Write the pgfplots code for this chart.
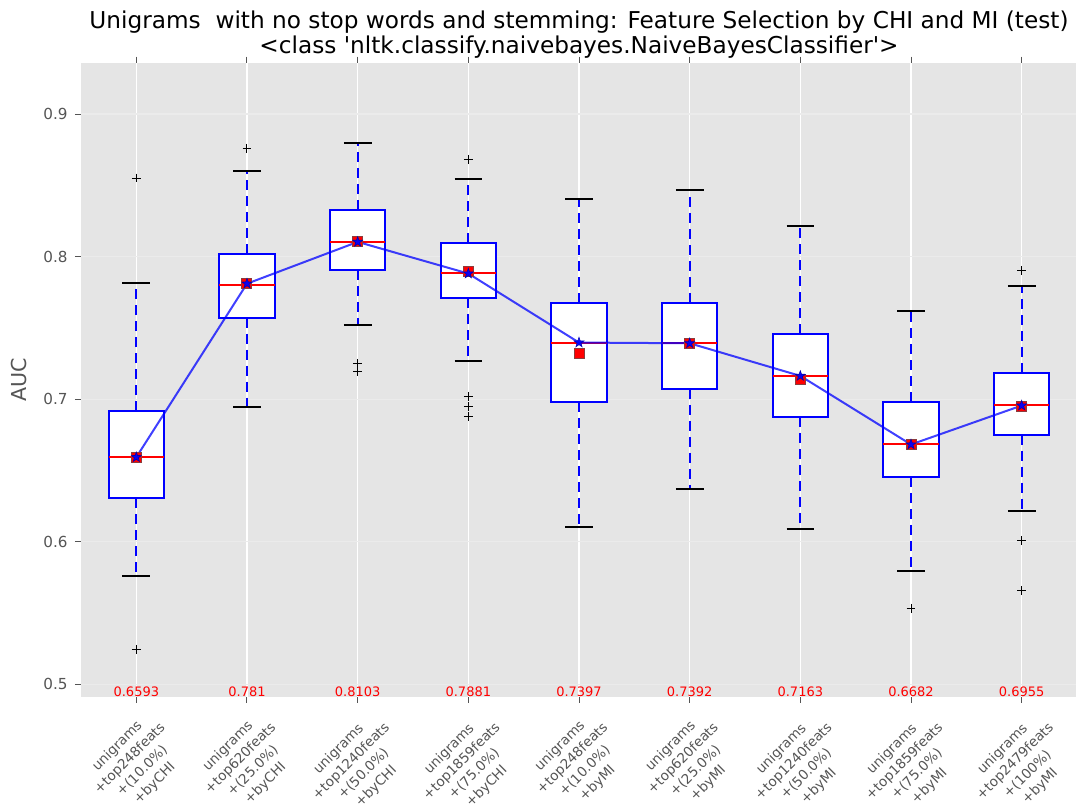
\documentclass[border=0pt]{standalone}
\usepackage{pgfplots}
\pgfplotsset{compat=1.18}
\usepgfplotslibrary{statistics}
\usepackage{fontspec}
\setmainfont{DejaVu Sans}
\definecolor{bgc}{HTML}{E5E5E5}
\definecolor{tickc}{HTML}{555555}
\definecolor{ygridc}{HTML}{EBEBEB}
\definecolor{sqedge}{HTML}{8C3C3C}

\pgfdeclareplotmark{fstar}{%
  \pgfpathmoveto{\pgfpointpolar{90}{\pgfplotmarksize}}%
  \pgfpathlineto{\pgfpointpolar{126}{0.4\pgfplotmarksize}}%
  \pgfpathlineto{\pgfpointpolar{162}{\pgfplotmarksize}}%
  \pgfpathlineto{\pgfpointpolar{198}{0.4\pgfplotmarksize}}%
  \pgfpathlineto{\pgfpointpolar{234}{\pgfplotmarksize}}%
  \pgfpathlineto{\pgfpointpolar{270}{0.4\pgfplotmarksize}}%
  \pgfpathlineto{\pgfpointpolar{306}{\pgfplotmarksize}}%
  \pgfpathlineto{\pgfpointpolar{342}{0.4\pgfplotmarksize}}%
  \pgfpathlineto{\pgfpointpolar{18}{\pgfplotmarksize}}%
  \pgfpathlineto{\pgfpointpolar{54}{0.4\pgfplotmarksize}}%
  \pgfpathclose
  \pgfusepathqfillstroke
}

\pgfplotsset{
  boxplot/draw direction=y,
  boxplot/box extend=0.5,
  boxplot/whisker extend=0.25,
  boxplot/every box/.style={draw=blue, fill=white, line width=1pt, solid},
  boxplot/every median/.style={red, line width=1pt, solid},
  boxplot/draw/lower whisker/.code={%
    \draw[blue, line width=1pt, dash pattern=on 5pt off 3pt]
      (boxplot box cs:\pgfplotsboxplotvalue{lower quartile},0.5) --
      (boxplot box cs:\pgfplotsboxplotvalue{lower whisker},0.5);
    \draw[black, line width=1pt, solid]
      (boxplot whisker cs:\pgfplotsboxplotvalue{lower whisker},0) --
      (boxplot whisker cs:\pgfplotsboxplotvalue{lower whisker},1);
  },
  boxplot/draw/upper whisker/.code={%
    \draw[blue, line width=1pt, dash pattern=on 5pt off 3pt]
      (boxplot box cs:\pgfplotsboxplotvalue{upper quartile},0.5) --
      (boxplot box cs:\pgfplotsboxplotvalue{upper whisker},0.5);
    \draw[black, line width=1pt, solid]
      (boxplot whisker cs:\pgfplotsboxplotvalue{upper whisker},0) --
      (boxplot whisker cs:\pgfplotsboxplotvalue{upper whisker},1);
  },
  bx/.style={mark=+, mark size=2.2pt, mark options={black, solid, line width=0.5pt}},
}

\newcommand{\xl}[3]{\rotatebox{45}{\begin{tabular}{@{}c@{}}unigrams\\+top#1feats\\+(#2\%)\\+by#3\end{tabular}}}

\begin{document}
\begin{tikzpicture}
\begin{axis}[
  scale only axis,
  width=498pt, height=317pt,
  xmin=0.5, xmax=9.5,
  ymin=0.4913, ymax=0.936,
  axis background/.style={fill=bgc},
  axis line style={draw=none},
  xtick={1,2,3,4,5,6,7,8,9},
  xticklabels={{\xl{248}{10.0}{CHI}},{\xl{620}{25.0}{CHI}},{\xl{1240}{50.0}{CHI}},{\xl{1859}{75.0}{CHI}},{\xl{248}{10.0}{MI}},{\xl{620}{25.0}{MI}},{\xl{1240}{50.0}{MI}},{\xl{1859}{75.0}{MI}},{\xl{2479}{100}{MI}}},
  ytick={0.5,0.6,0.7,0.8,0.9},
  xtick pos=both,
  ytick pos=left,
  tick align=outside,
  major tick length=3pt,
  tick style={draw=tickc, line width=0.5pt},
  grid=major,
  x grid style={white, line width=0.6pt},
  y grid style={ygridc, line width=0.6pt},
  /pgf/number format/assume math mode=true,
  yticklabel style={/pgf/number format/fixed, /pgf/number format/precision=1, anchor=east, inner sep=0pt, xshift=-3.5pt, font=\fontsize{7.6}{9}\selectfont, text=tickc},
  xticklabel style={anchor=north, inner sep=0pt, yshift=-2pt, font=\fontsize{6.8}{8.8}\selectfont, text=tickc},
  title={Unigrams~ with no stop words and stemming: Feature Selection by CHI and MI (test)\\<class \textquotesingle nltk.classify.naivebayes.NaiveBayesClassifier\textquotesingle>},
  every axis title/.style={at={(axis description cs:0.5,1)}, anchor=south, yshift=2pt, inner sep=0pt, align=center, font=\fontsize{11.6}{12.5}\selectfont},
  ylabel={AUC},
  every axis y label/.style={at={([xshift=-31pt]axis description cs:0,0.5)}, anchor=center, rotate=90, font=\fontsize{10.3}{12}\selectfont, text=tickc},
]
% boxes: lower whisker, lower quartile, median, upper quartile, upper whisker; outliers as coordinates
\addplot[bx, boxplot prepared={draw direction=y, draw position=1, lower whisker=0.5758, lower quartile=0.6305, median=0.6593, upper quartile=0.6916, upper whisker=0.7814}] coordinates {(0,0.8551) (0,0.5246)};
\addplot[bx, boxplot prepared={draw direction=y, draw position=2, lower whisker=0.6946, lower quartile=0.7571, median=0.7802, upper quartile=0.8018, upper whisker=0.8600}] coordinates {(0,0.8759)};
\addplot[bx, boxplot prepared={draw direction=y, draw position=3, lower whisker=0.7517, lower quartile=0.7903, median=0.8100, upper quartile=0.8326, upper whisker=0.8794}] coordinates {(0,0.7250) (0,0.7196)};
\addplot[bx, boxplot prepared={draw direction=y, draw position=4, lower whisker=0.7267, lower quartile=0.7711, median=0.7882, upper quartile=0.8097, upper whisker=0.8542}] coordinates {(0,0.8682) (0,0.7016) (0,0.6946) (0,0.6881)};
\addplot[bx, boxplot prepared={draw direction=y, draw position=5, lower whisker=0.6102, lower quartile=0.6979, median=0.7395, upper quartile=0.7676, upper whisker=0.8406}] coordinates {};
\addplot[bx, boxplot prepared={draw direction=y, draw position=6, lower whisker=0.6373, lower quartile=0.7072, median=0.7391, upper quartile=0.7676, upper whisker=0.8465}] coordinates {};
\addplot[bx, boxplot prepared={draw direction=y, draw position=7, lower whisker=0.6090, lower quartile=0.6876, median=0.7164, upper quartile=0.7458, upper whisker=0.8214}] coordinates {};
\addplot[bx, boxplot prepared={draw direction=y, draw position=8, lower whisker=0.5793, lower quartile=0.6455, median=0.6682, upper quartile=0.6981, upper whisker=0.7620}] coordinates {(0,0.5533)};
\addplot[bx, boxplot prepared={draw direction=y, draw position=9, lower whisker=0.6214, lower quartile=0.6752, median=0.6958, upper quartile=0.7185, upper whisker=0.7791}] coordinates {(0,0.7903) (0,0.6008) (0,0.5658)};
% means
\addplot[only marks, mark=square*, mark size=2.5pt, mark options={fill=red, draw=sqedge, line width=0.5pt}] coordinates {
  (1,0.6593) (2,0.7810) (3,0.8103) (4,0.7893) (5,0.7321) (6,0.7392) (7,0.7140) (8,0.6682) (9,0.6946)};
% line
\addplot[blue, line width=1pt, opacity=0.75, mark=fstar, mark size=2.6pt, mark options={fill=blue, draw=blue!70!black, line width=0.3pt, opacity=0.95}] coordinates {
  (1,0.6593) (2,0.7810) (3,0.8103) (4,0.7881) (5,0.7397) (6,0.7392) (7,0.7163) (8,0.6682) (9,0.6955)};
% value labels
\addplot[draw=none, mark=none, point meta=explicit symbolic, nodes near coords={\pgfplotspointmeta}, nodes near coords align={center}, every node near coord/.append style={font=\fontsize{6.5}{7}\selectfont, text=red, inner sep=0pt}] coordinates {
  (1,0.4950) [0.6593] (2,0.4950) [0.781] (3,0.4950) [0.8103] (4,0.4950) [0.7881] (5,0.4950) [0.7397] (6,0.4950) [0.7392] (7,0.4950) [0.7163] (8,0.4950) [0.6682] (9,0.4950) [0.6955]};
\end{axis}
\pgfresetboundingbox
\path[use as bounding box] (-40.5pt,-55.65pt) rectangle (497.5pt,348.35pt);
\end{tikzpicture}
\end{document}
